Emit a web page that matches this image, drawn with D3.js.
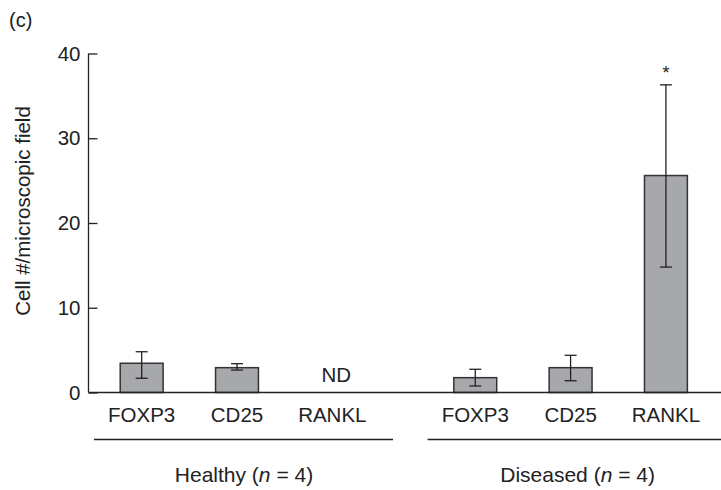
<!DOCTYPE html>
<html>
<head>
<meta charset="utf-8">
<script src="https://cdn.jsdelivr.net/npm/d3@7"></script>
<style>
  body { margin: 0; background: #fff; }
  text { font-family: "Liberation Sans", Arial, Helvetica, sans-serif; fill: #222; }
</style>
</head>
<body>
<div id="chart-area"></div>
<script>
// data
var groups = ["Healthy", "Diseased"];
var genes = ["FOXP3", "CD25", "RANKL"];
// mean, low and high of error bar; null = not detected
var healthyMean = [3.45, 2.93, null];
var healthyLow  = [1.68, 2.65, null];
var healthyHigh = [4.81, 3.40, null];
var diseasedMean = [1.75, 2.93, 25.6];
var diseasedLow  = [0.77, 1.39, 14.8];
var diseasedHigh = [2.74, 4.39, 36.3];
var yTicks = [0, 10, 20, 30, 40];

var rows = [];
genes.forEach(function(gene, i) {
    rows.push({ group: "Healthy", gene: gene, mean: healthyMean[i], low: healthyLow[i], high: healthyHigh[i] });
    rows.push({ group: "Diseased", gene: gene, mean: diseasedMean[i], low: diseasedLow[i], high: diseasedHigh[i] });
});

var W = 721, H = 490;
var svg = d3.select("#chart-area").append("svg")
    .attr("width", W)
    .attr("height", H);

// scales
var y = d3.scaleLinear().domain([0, 40]).range([392.5, 53.5]);
var x0 = d3.scaleBand().domain(groups).range([94, 726.6]).paddingInner(0.1037);
var x1 = d3.scaleBand().domain(genes).range([0, 286]);
var barW = x1.bandwidth() * 0.45;
function cx(d) { return x0(d.group) + x1(d.gene) + x1.bandwidth() / 2; }

var axisX = 88.5;

// panel letter
svg.append("text")
    .attr("x", 9)
    .attr("y", 26.5)
    .attr("font-size", "20px")
    .text("(c)");

// y axis
var yAxis = svg.append("g")
    .attr("transform", "translate(" + axisX + ",0)")
    .call(d3.axisRight(y).tickValues(yTicks).tickSize(9).tickFormat(d3.format("d")));
yAxis.select(".domain").remove();
yAxis.selectAll(".tick line").attr("stroke", "#222").attr("stroke-width", 1.3);
yAxis.selectAll(".tick text")
    .attr("x", -8)
    .attr("text-anchor", "end")
    .attr("font-size", "20.5px")
    .attr("font-family", "Liberation Sans, Arial, sans-serif")
    .attr("fill", "#222");

svg.append("line")
    .attr("x1", axisX).attr("x2", axisX)
    .attr("y1", y(40)).attr("y2", y(0))
    .attr("stroke", "#222").attr("stroke-width", 1.3);

svg.append("text")
    .attr("transform", "translate(30," + 211 + ") rotate(-90)")
    .attr("text-anchor", "middle")
    .attr("font-size", "20.5px")
    .text("Cell #/microscopic field");

// bars
var present = rows.filter(function(d) { return d.mean !== null; });

svg.selectAll("rect.bar")
    .data(present)
    .enter().append("rect")
    .attr("class", "bar")
    .attr("x", function(d) { return cx(d) - barW / 2; })
    .attr("width", barW)
    .attr("y", function(d) { return y(d.mean); })
    .attr("height", function(d) { return y(0) - y(d.mean); })
    .attr("fill", "#a7a8ab")
    .attr("stroke", "#333")
    .attr("stroke-width", 1.5);

// error bars
var err = svg.selectAll("g.err")
    .data(present)
    .enter().append("g")
    .attr("class", "err")
    .attr("stroke", "#222")
    .attr("stroke-width", 1.3);
err.append("line")
    .attr("x1", cx).attr("x2", cx)
    .attr("y1", function(d) { return y(d.low); })
    .attr("y2", function(d) { return y(d.high); });
err.append("line")
    .attr("x1", function(d) { return cx(d) - 6; })
    .attr("x2", function(d) { return cx(d) + 6; })
    .attr("y1", function(d) { return y(d.low); })
    .attr("y2", function(d) { return y(d.low); });
err.append("line")
    .attr("x1", function(d) { return cx(d) - 6; })
    .attr("x2", function(d) { return cx(d) + 6; })
    .attr("y1", function(d) { return y(d.high); })
    .attr("y2", function(d) { return y(d.high); });

// ND label for missing value
svg.selectAll("text.nd")
    .data(rows.filter(function(d) { return d.mean === null; }))
    .enter().append("text")
    .attr("class", "nd")
    .attr("x", function(d) { return cx(d) + 4; })
    .attr("y", y(0) - 11)
    .attr("text-anchor", "middle")
    .attr("font-size", "20.5px")
    .text("ND");

// significance star on the tallest bar
var starBars = present.filter(function(d) { return d.group === "Diseased" && d.gene === "RANKL"; });
svg.selectAll("text.star")
    .data(starBars)
    .enter().append("text")
    .attr("class", "star")
    .attr("x", cx)
    .attr("y", function(d) { return y(d.high) - 6; })
    .attr("text-anchor", "middle")
    .attr("font-size", "18px")
    .text("*");

// x baseline
svg.append("line")
    .attr("x1", axisX).attr("x2", W)
    .attr("y1", y(0)).attr("y2", y(0))
    .attr("stroke", "#222").attr("stroke-width", 1.3);

// gene labels
svg.selectAll("text.gene")
    .data(rows)
    .enter().append("text")
    .attr("class", "gene")
    .attr("x", cx)
    .attr("y", 421.5)
    .attr("text-anchor", "middle")
    .attr("font-size", "20.5px")
    .text(function(d) { return d.gene; });

// group underline and label
groups.forEach(function(g) {
    svg.append("line")
        .attr("x1", x0(g))
        .attr("x2", x0(g) + x0.bandwidth())
        .attr("y1", 439.5).attr("y2", 439.5)
        .attr("stroke", "#222").attr("stroke-width", 1.5);

    var t = svg.append("text")
        .attr("x", x0(g) + x1("CD25") + x1.bandwidth() / 2 + 7)
        .attr("y", 481.5)
        .attr("text-anchor", "middle")
        .attr("font-size", "21px");
    t.append("tspan").text(g + " (");
    t.append("tspan").attr("font-style", "italic").text("n");
    t.append("tspan").text(" = 4)");
});
</script>
</body>
</html>
